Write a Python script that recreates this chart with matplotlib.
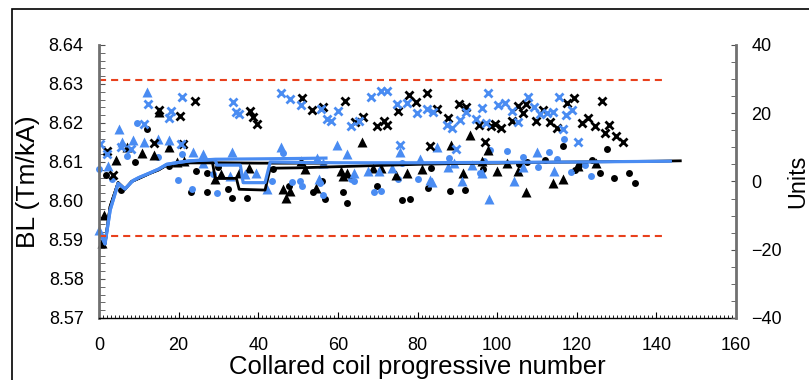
import matplotlib
matplotlib.use("Agg")
import matplotlib.pyplot as plt
from matplotlib.patches import Rectangle
from matplotlib.ticker import MultipleLocator

plt.rcParams['font.family'] = ['Liberation Sans', 'DejaVu Sans']

BLUE = '#4a8cf2'
RED = '#e8401c'

# --- data ---
black_dot_x = [1.7, 5.4, 9.1, 12, 17.6, 23.2, 24.3, 27.0, 27.0, 29.8, 32.3, 33.5, 37.2, 43.6, 47.6,
               53.8, 56.1, 56.8, 61.4, 62.4, 69.7, 76.2, 78.1, 82.7, 83.5, 88.2, 91.8, 96.5, 105.6,
               107.6, 112, 116.6, 119.6, 120.2, 120.6, 123.8, 125.8, 127.5, 129.4, 133.2, 134.6]
black_dot_y = [8.6067, 8.6028, 8.6101, 8.6185, 8.6090, 8.6022, 8.6077, 8.6022, 8.6071, 8.6088, 8.6030,
               8.6008, 8.6007, 8.6081, 8.6039, 8.6024, 8.6052, 8.6004, 8.6022, 8.5994, 8.6038, 8.6003,
               8.6005, 8.6033, 8.6084, 8.6026, 8.6028, 8.6082, 8.6095, 8.6099, 8.6105, 8.6140, 8.6079,
               8.6088, 8.6091, 8.6105, 8.6071, 8.6133, 8.6058, 8.6071, 8.6047]

blue_dot_x = [0, 3.3, 7.0, 9.5, 14.8, 19.9, 20.9, 23.4, 28.7, 29.6, 43.4, 46.3, 48.4, 50.5, 51.1, 55.5,
              56.2, 63.2, 64.1, 69.1, 70.8, 75.2, 76, 80.2, 88, 95.7, 96.7, 98.2, 102.4, 106.6, 110.3,
              113.1, 115.1, 116.8, 118.6, 122.1, 123.5]
blue_dot_y = [8.6082, 8.6056, 8.6115, 8.6199, 8.6112, 8.6054, 8.6120, 8.6031, 8.6069, 8.6020, 8.6050,
              8.6122, 8.6048, 8.6052, 8.6039, 8.6047, 8.6015, 8.6056, 8.6051, 8.6024, 8.6026, 8.6056,
              8.6097, 8.6056, 8.6109, 8.6071, 8.6102, 8.6131, 8.6129, 8.6114, 8.6086, 8.6126, 8.6108,
              8.6158, 8.6074, 8.6092, 8.6065]

black_tri_x = [0.7, 1.2, 4.2, 7.1, 10.9, 13.7, 15.0, 17.6, 19.5, 21.4, 29.1, 30.6, 35.2, 37.6, 46.1, 47,
               48, 50.7, 51.7, 54.4, 60.7, 61.2, 62.2, 66, 68.7, 70.8, 74.5, 77.3, 81, 88.3, 91.3, 93.2,
               96.1, 97.6, 99.9, 102.4, 105.3, 107.2, 114.1, 116.6, 120.4, 124.8]
black_tri_y = [8.5892, 8.5964, 8.6105, 8.6139, 8.6124, 8.6118, 8.6228, 8.6138, 8.6099, 8.6103, 8.6056,
               8.6068, 8.6071, 8.6084, 8.6030, 8.6007, 8.6026, 8.6102, 8.6081, 8.6034, 8.6077, 8.6064,
               8.6071, 8.6152, 8.6084, 8.6084, 8.6067, 8.6071, 8.6081, 8.6144, 8.6073, 8.6169, 8.6103,
               8.6131, 8.6077, 8.6098, 8.6077, 8.6024, 8.6045, 8.6056, 8.6090, 8.6097]

blue_tri_x = [0, 2.3, 4.9, 5.8, 8.5, 11.2, 12.0, 14.8, 17.5, 23.7, 26.1, 26.2, 32.9, 33.3, 36.7, 39.5,
              42.1, 45.6, 54.8, 55.3, 56.3, 59.7, 62.2, 64.1, 67.5, 70.2, 73.5, 75.5, 80.5, 83.1, 83.7,
              85, 87.7, 89.2, 91.1, 93.6, 96.1, 98, 104.3, 106.6, 109.9, 114.4]
blue_tri_y = [8.5926, 8.6090, 8.6185, 8.6150, 8.6156, 8.6151, 8.6279, 8.6158, 8.6156, 8.6125, 8.6121,
              8.6098, 8.6064, 8.6126, 8.6070, 8.6072, 8.6030, 8.6139, 8.6109, 8.6056, 8.6098, 8.6144,
              8.6120, 8.6073, 8.6077, 8.6077, 8.6084, 8.6126, 8.6107, 8.6054, 8.6048, 8.6138, 8.6086,
              8.6097, 8.6050, 8.6092, 8.6071, 8.6005, 8.6051, 8.6088, 8.6125, 8.6078]

black_x_x = [2.1, 3.6, 13.9, 15, 20.4, 21.2, 24.1, 37.8, 38.8, 39.6, 50.9, 53.4, 56.2, 61.8, 64.3, 66.2,
             69.7, 71.7, 72.4, 75.2, 77.9, 79.6, 82.3, 83.1, 85, 87.6, 90.4, 92.1, 95.5, 97.0, 98.5,
             99.5, 101, 103.7, 105.3, 106.4, 107.2, 109.8, 111.6, 113.3, 115.1, 117.6, 119.4, 121.2,
             122.9, 124.7, 126.4, 127.1, 128.1, 129.8, 131.5]
black_x_y = [8.6129, 8.6067, 8.6148, 8.6233, 8.6217, 8.6146, 8.6257, 8.6232, 8.6216, 8.6197, 8.6265,
             8.6233, 8.6242, 8.6257, 8.6203, 8.6215, 8.6191, 8.6206, 8.6195, 8.6231, 8.6272, 8.6255,
             8.6278, 8.6142, 8.6235, 8.6212, 8.6249, 8.6242, 8.6195, 8.6150, 8.6192, 8.6197, 8.6188,
             8.6206, 8.6244, 8.6225, 8.6249, 8.6206, 8.6233, 8.6203, 8.6188, 8.6252, 8.6265, 8.6201,
             8.6212, 8.6192, 8.6256, 8.6175, 8.6195, 8.6167, 8.6152]

blue_x_x = [0.25, 1.9, 5.4, 8.0, 11.4, 12.2, 17.5, 18.2, 20.8, 20.6, 33.6, 34.3, 35.2, 45.6, 48, 50.7,
            55.7, 57.3, 58.2, 59.9, 63.2, 65.3, 68.2, 70.8, 72.4, 74.8, 75.6, 77.3, 79.8, 82.3, 84,
            87.3, 88.6, 89.7, 90.7, 92.2, 94.6, 96.1, 97.2, 97.8, 100.3, 102, 103.7, 105.2, 107.7,
            109.3, 110.8, 112.5, 114.1, 115.6, 116.5, 117.3, 118.9, 120.4]
blue_x_y = [8.6146, 8.6121, 8.6139, 8.6133, 8.6198, 8.6249, 8.6212, 8.6232, 8.6266, 8.6146, 8.6255,
            8.6227, 8.6222, 8.6278, 8.6262, 8.6246, 8.6235, 8.6210, 8.6206, 8.6232, 8.6191, 8.6206,
            8.6267, 8.6282, 8.6283, 8.6249, 8.6144, 8.6251, 8.6225, 8.6236, 8.6229, 8.6195, 8.6186,
            8.6133, 8.6208, 8.6227, 8.6209, 8.6239, 8.6201, 8.6276, 8.6246, 8.6252, 8.6232, 8.6203,
            8.6267, 8.6242, 8.6222, 8.6225, 8.6229, 8.6267, 8.6184, 8.6220, 8.6233, 8.6152]

# running averages
black_long_x = [0, 1.5, 2.8, 4.8, 6.5, 8.2, 10, 12.8, 15, 17, 20, 22.9, 28.5, 29.2, 34.5, 35.2, 41.7,
                43, 50, 60, 70, 80, 90, 100, 110, 120, 130, 140, 146]
black_long_y = [8.5892, 8.5890, 8.5986, 8.6047, 8.6030, 8.6050, 8.6058, 8.6071, 8.6080, 8.6092, 8.6096,
                8.6098, 8.6098, 8.6058, 8.6058, 8.6030, 8.6028, 8.6084, 8.6085, 8.6088, 8.6091, 8.6094,
                8.6096, 8.6097, 8.6099, 8.6100, 8.6101, 8.6102, 8.6103]
black_short_x = [0, 1.5, 2.8, 4.8, 6.5, 8.2, 10, 12.8, 15, 17, 20, 22.9, 30, 40, 50, 57]
black_short_y = [8.5892, 8.5890, 8.5986, 8.6047, 8.6030, 8.6050, 8.6058, 8.6071, 8.6080, 8.6092, 8.6096,
                 8.6098, 8.6098, 8.6097, 8.6097, 8.6097]
blue_long_x = [0, 1.5, 2.8, 4.8, 6.5, 8.5, 10, 12.8, 15, 17, 20, 22.9, 29.2, 29.6, 35.5, 36.2, 41.7,
               43, 50, 60, 80, 100, 120, 143.5]
blue_long_y = [8.5925, 8.5890, 8.5977, 8.6045, 8.6031, 8.6052, 8.6060, 8.6072, 8.6082, 8.6094, 8.6099,
               8.6103, 8.6106, 8.6092, 8.6092, 8.6047, 8.6047, 8.6100, 8.6099, 8.6098, 8.6098, 8.6099,
               8.6100, 8.6102]
blue_short_x = [0, 1.5, 2.8, 4.8, 6.5, 8.5, 10, 12.8, 15, 17, 20, 22.9, 29.2, 40, 50, 57]
blue_short_y = [8.5925, 8.5890, 8.5977, 8.6045, 8.6031, 8.6052, 8.6060, 8.6072, 8.6082, 8.6094, 8.6099,
                8.6103, 8.6107, 8.6108, 8.6109, 8.6110]

limit_x = [0, 142]
upper_limit = 8.631
lower_limit = 8.591

# --- figure ---
fig = plt.figure(figsize=(8.09, 3.80), dpi=100)
ax = fig.add_axes([0.1224, 0.1632, 0.7874, 0.7184])

ax.plot(black_dot_x, black_dot_y, 'o', color='black', ms=5, mec='none', clip_on=False)
ax.plot(blue_dot_x, blue_dot_y, 'o', color=BLUE, ms=5, mec='none', clip_on=False)
ax.plot(black_tri_x, black_tri_y, '^', color='black', ms=6.5, mec='none', clip_on=False)
ax.plot(blue_tri_x, blue_tri_y, '^', color=BLUE, ms=6.5, mec='none', clip_on=False)
ax.plot(black_x_x, black_x_y, 'x', color='black', ms=5.5, mew=2)
ax.plot(blue_x_x, blue_x_y, 'x', color=BLUE, ms=5.5, mew=2)

ax.plot(black_short_x, black_short_y, color='black', lw=2)
ax.plot(black_long_x, black_long_y, color='black', lw=2)
ax.plot(blue_short_x, blue_short_y, color=BLUE, lw=2.3)
ax.plot(blue_long_x, blue_long_y, color=BLUE, lw=2.3)

ax.plot(limit_x, [upper_limit, upper_limit], color=RED, lw=1.5, dashes=(3.4, 2.4))
ax.plot(limit_x, [lower_limit, lower_limit], color=RED, lw=1.5, dashes=(3.4, 2.4))

ax.set_xlim(0, 160)
ax.set_ylim(8.57, 8.64)
ax.xaxis.set_major_locator(MultipleLocator(20))
ax.xaxis.set_minor_locator(MultipleLocator(1))
ax.yaxis.set_major_locator(MultipleLocator(0.01))
ax.yaxis.set_minor_locator(MultipleLocator(0.002))
ax.yaxis.set_major_formatter(plt.FormatStrFormatter('%.2f'))

ax.spines['top'].set_visible(False)
ax.spines['right'].set_visible(False)
ax.spines['left'].set_color('#707070')
ax.spines['left'].set_linewidth(2)
ax.spines['bottom'].set_linewidth(1)

ax.tick_params(axis='x', which='major', direction='in', length=4, labelsize=13, pad=14)
ax.tick_params(axis='x', which='minor', direction='in', length=2)
ax.tick_params(axis='y', which='both', direction='in', length=4, labelsize=13, pad=11, color='#505050')

ax.set_xlabel('Collared coil progressive number', fontsize=18.5, va='center')
ax.xaxis.set_label_coords(0.5, -0.178)
ax.set_ylabel('BL (Tm/kA)', fontsize=19, va='center')
ax.yaxis.set_label_coords(-0.1115, 0.5)

ax2 = ax.twinx()
ax2.set_ylim(-40, 40)
ax2.yaxis.set_major_locator(MultipleLocator(20))
ax2.yaxis.set_minor_locator(MultipleLocator(5))
for s in ['top', 'left', 'bottom']:
    ax2.spines[s].set_visible(False)
ax2.spines['right'].set_color('#707070')
ax2.spines['right'].set_linewidth(2)
ax2.tick_params(axis='y', which='both', direction='in', length=3.5, labelsize=13, pad=11, color='#505050')
ax2.set_ylabel('Units', fontsize=16.8, va='center', rotation=90)
ax2.yaxis.set_label_coords(1.097, 0.5)

# outer frame of the original figure (only left and top edges visible)
fig.add_artist(Rectangle((12 / 809, -0.5), 2, 0.5 + 1 - 9 / 380, transform=fig.transFigure,
                         fill=False, edgecolor='black', lw=1.2))

fig.savefig('out.png', dpi=100)
